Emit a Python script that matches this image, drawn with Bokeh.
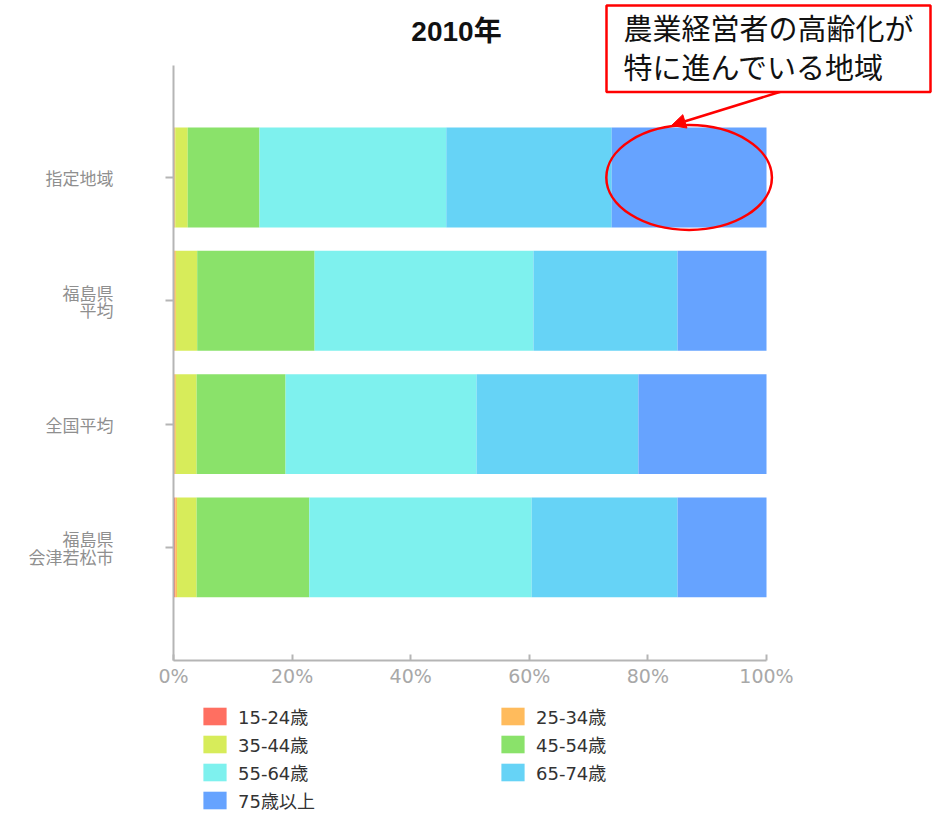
from bokeh.plotting import figure
from bokeh.models import (ColumnDataSource, Range1d, FixedTicker, Legend, LegendItem,
                          Label, Arrow, NormalHead, PrintfTickFormatter, LinearAxis)
from bokeh.embed import file_html
from bokeh.resources import INLINE

# ---- data ----
title_text = "2010年"
categories = ["指定地域", "福島県\n平均", "全国平均", "福島県\n会津若松市"]
age_groups = ["15-24歳", "25-34歳", "35-44歳", "45-54歳", "55-64歳", "65-74歳", "75歳以上"]
colors = ["#FF6F61", "#FFBB5C", "#D7EC5A", "#8AE26A", "#7EF1EE", "#66D3F6", "#66A3FF"]
share_15_24 = [0.1, 0.1, 0.1, 0.3]
share_25_34 = [0.2, 0.3, 0.3, 0.3]
share_35_44 = [2.1, 3.6, 3.5, 3.3]
share_45_54 = [12.1, 19.8, 15.0, 19.0]
share_55_64 = [31.5, 36.9, 32.2, 37.5]
share_65_74 = [27.9, 24.3, 27.3, 24.6]
share_75_over = [26.1, 15.0, 21.6, 15.0]
x_ticks = [0, 20, 40, 60, 80, 100]
callout_text = "農業経営者の高齢化が\n特に進んでいる地域"

series = [share_15_24, share_25_34, share_35_44, share_45_54,
          share_55_64, share_65_74, share_75_over]
data = {"y": list(range(len(categories)))}
for name, vals in zip(age_groups, series):
    data[name] = vals
source = ColumnDataSource(data)

W, H = 932, 813
bar_h = 0.81
# the plotting frame covers the whole canvas so that call-outs are not clipped;
# the axes are pinned at the chart's edges with fixed_location / bounds
y_lo, y_hi = -0.908, 3.917          # visible band of categories
p = figure(width=W, height=H,
           x_range=Range1d(-29.17, 127.99), y_range=Range1d(5.158, -1.4355),
           x_axis_location=None, y_axis_location=None,
           output_backend="svg", toolbar_location=None,
           min_border=0)
p.outline_line_color = None
p.xgrid.visible = False
p.ygrid.visible = False
p.background_fill_color = "white"
p.border_fill_color = "white"

renderers = p.hbar_stack(age_groups, y="y", height=bar_h, color=colors,
                         line_color=None, source=source)

axis_grey = "#b5b5b5"
xa = LinearAxis(fixed_location=y_hi, bounds=(0, 100))
xa.ticker = FixedTicker(ticks=x_ticks)
xa.formatter = PrintfTickFormatter(format="%d%%")
xa.axis_line_color = axis_grey
xa.axis_line_width = 2
xa.major_tick_line_color = axis_grey
xa.major_tick_line_width = 2
xa.major_tick_in = 6
xa.major_tick_out = 0
xa.minor_tick_line_color = None
xa.major_label_text_font = "DejaVu Sans"
xa.major_label_text_font_size = "19px"
xa.major_label_text_color = "#a8a8a8"
xa.major_label_standoff = 5
p.add_layout(xa, "below")

ya = LinearAxis(fixed_location=0, bounds=(y_lo, y_hi))
ya.ticker = FixedTicker(ticks=list(range(len(categories))))
ya.major_label_overrides = {i: c for i, c in enumerate(categories)}
ya.axis_line_color = axis_grey
ya.axis_line_width = 2
ya.major_tick_line_color = axis_grey
ya.major_tick_line_width = 2
ya.major_tick_in = 0
ya.major_tick_out = 8
ya.minor_tick_line_color = None
ya.major_label_text_font = "Noto Sans CJK JP"
ya.major_label_text_font_size = "17px"
ya.major_label_text_line_height = 0.7
ya.major_label_text_color = "#8f8f8f"
ya.major_label_standoff = 52
p.add_layout(ya, "left")

# title
p.add_layout(Label(x=456, y=H - 31, x_units="screen", y_units="screen",
                   text=title_text, text_align="center", text_baseline="middle",
                   text_font="Liberation Sans, Noto Sans CJK JP",
                   text_font_size="28px", text_font_style="bold",
                   text_color="#111111"))

# legend
items = [LegendItem(label=g, renderers=[r]) for g, r in zip(age_groups, renderers)]
legend = Legend(items=items, orientation="horizontal", ncols=2,
                location=(200, 0), glyph_width=29, glyph_height=22,
                label_standoff=9, label_width=258, label_height=22, spacing=2,
                padding=0, margin=0, border_line_color=None,
                background_fill_alpha=0,
                label_text_font="DejaVu Sans, Noto Sans CJK JP",
                label_text_font_size="18px", label_text_line_height=1.0,
                label_text_color="#333333")
p.add_layout(legend, "center")

# highlight ellipse around the oldest group of the first category
last_start = 100 - share_75_over[0]
p.ellipse(x=[(last_start + 100) / 2], y=[0], width=[share_75_over[0] * 1.07],
          height=[bar_h * 1.05], fill_alpha=0, line_color="red", line_width=2.5)

# arrow first, then the call-out box over its start
arrow = Arrow(end=NormalHead(size=14, fill_color="red", line_color="red"),
              x_start=784, y_start=H - 90, x_end=671, y_end=H - 125,
              start_units="screen", end_units="screen",
              line_color="red", line_width=2.5)
p.add_layout(arrow)

callout = Label(x=606, y=H - 5, x_units="screen", y_units="screen",
                text=callout_text, text_align="left", text_baseline="top",
                text_font="Noto Sans CJK JP", text_font_size="29px",
                text_color="#111111", text_line_height=0.94,
                padding=dict(left=17, right=17, top=0, bottom=5),
                border_line_color="red", border_line_width=2.5,
                background_fill_color="white")
p.add_layout(callout)

open("out.html", "w").write(file_html(p, INLINE))
